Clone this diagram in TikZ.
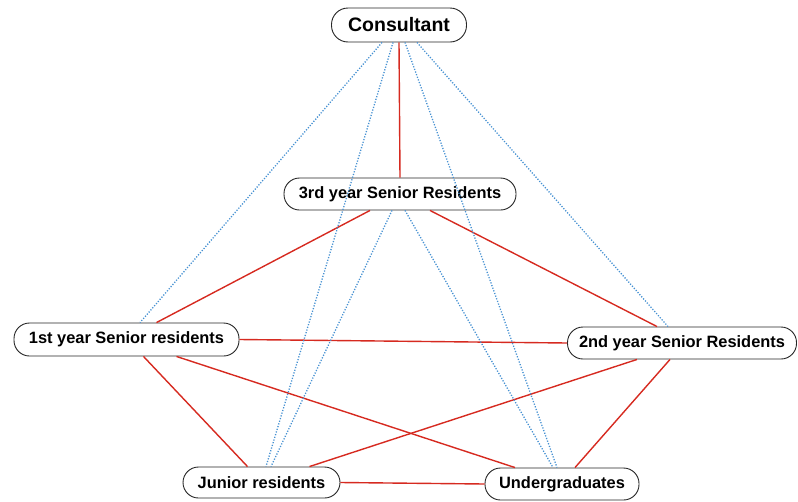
\documentclass[tikz,border=0pt]{standalone}
\usepackage{fontspec}
\setmainfont{Liberation Sans}
\definecolor{redline}{RGB}{214,42,32}
\definecolor{blueline}{RGB}{70,145,210}
\tikzset{
  box/.style={draw=black!85, line width=0.9pt, rounded corners=15.5pt, fill=white,
    inner sep=0pt, minimum height=32pt, font=\bfseries\fontsize{16.4}{18}\selectfont},
  redcon/.style={draw=redline, line width=1.4pt},
  bluecon/.style={draw=blueline, line width=1.3pt, dash pattern=on 1.2pt off 1.6pt},
}
\begin{document}
\begin{tikzpicture}[x=1pt,y=-1pt]
\useasboundingbox (0,0) rectangle (798,501);
\node[box, minimum width=135pt, minimum height=34pt, rounded corners=16.5pt, font=\bfseries\fontsize{19.5}{22}\selectfont] (cons) at (399,25) {Consultant};
\node[box, minimum width=232pt] (third) at (400,194) {3rd year Senior Residents};
\node[box, minimum width=225pt, minimum height=33pt] (first) at (126.5,339.5) {1st year Senior residents};
\node[box, minimum width=229pt] (second) at (682,343) {2nd year Senior Residents};
\node[box, minimum width=157pt, minimum height=31pt] (junior) at (261.5,482.5) {Junior residents};
\node[box, minimum width=154pt] (under) at (562,484) {Undergraduates};

% red connectors
\draw[redcon] (cons.south) -- (third.north);
\draw[redcon] ([xshift=-30pt]third.south) -- ([xshift=30pt]first.north);
\draw[redcon] ([xshift=30pt]third.south) -- ([xshift=-25pt]second.north);
\draw[redcon] (first.east) -- (second.west);
\draw[redcon] ([xshift=17pt]first.south) -- ([xshift=-14pt]junior.north);
\draw[redcon] ([xshift=50pt]first.south) -- ([xshift=-47pt]under.north);
\draw[redcon] ([xshift=-45pt]second.south) -- ([xshift=48pt]junior.north);
\draw[redcon] ([xshift=-12pt]second.south) -- ([xshift=13pt]under.north);
\draw[redcon] (junior.east) -- (under.west);

% blue dotted connectors
\draw[bluecon] ([xshift=-17pt]cons.south) -- ([xshift=13.5pt]first.north);
\draw[bluecon] ([xshift=-6pt]cons.south) -- ([xshift=4.5pt]junior.north);
\draw[bluecon] ([xshift=6pt]cons.south) -- ([xshift=-5pt]under.north);
\draw[bluecon] ([xshift=18pt]cons.south) -- ([xshift=-14pt]second.north);
\draw[bluecon] ([xshift=-8pt]third.south) -- ([xshift=9.5pt]junior.north);
\draw[bluecon] ([xshift=5pt]third.south) -- ([xshift=-9pt]under.north);
\end{tikzpicture}
\end{document}
